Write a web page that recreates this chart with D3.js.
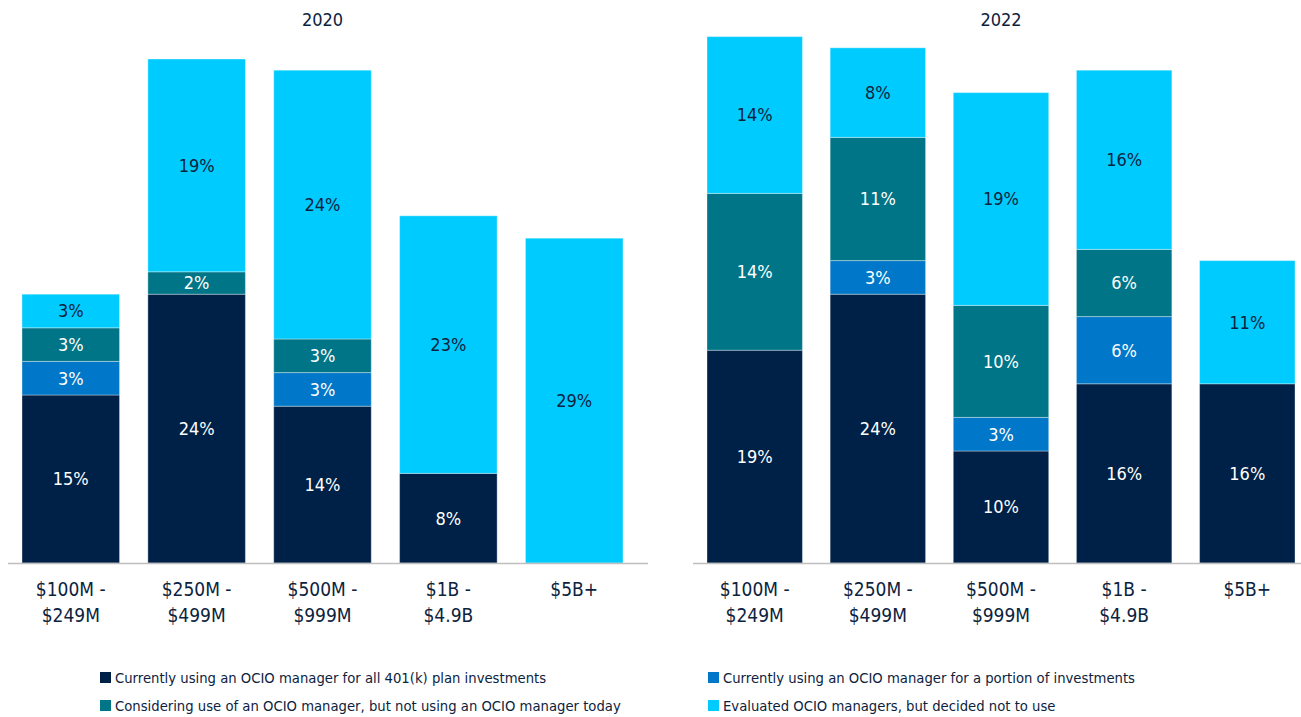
<!DOCTYPE html>
<html lang="en">
<head>
<meta charset="UTF-8">
<title>OCIO usage by plan size</title>
<style>
  body { margin: 0; padding: 0; background: #fff; }
  svg { display: block; font-family: "Liberation Sans Narrow", "DejaVu Sans Condensed", "Roboto", sans-serif; }
</style>
</head>
<body>
<script src="https://d3js.org/d3.v7.min.js"></script>
<script>
const width = 1301
const height = 717

// data
const categories = ['$100M - $249M', '$250M - $499M', '$500M - $999M', '$1B - $4.9B', '$5B+']
const tickLines = [['$100M -', '$249M'], ['$250M -', '$499M'], ['$500M -', '$999M'], ['$1B -', '$4.9B'], ['$5B+']]
const seriesNames = [
  'Currently using an OCIO manager for all 401(k) plan investments',
  'Currently using an OCIO manager for a portion of investments',
  'Considering use of an OCIO manager, but not using an OCIO manager today',
  'Evaluated OCIO managers, but decided not to use'
]
const allIn2020 = [15, 24, 14, 8, 0]
const portion2020 = [3, 0, 3, 0, 0]
const considering2020 = [3, 2, 3, 0, 0]
const evaluated2020 = [3, 19, 24, 23, 29]
const allIn2022 = [19, 24, 10, 16, 16]
const portion2022 = [0, 3, 3, 6, 0]
const considering2022 = [14, 11, 10, 6, 0]
const evaluated2022 = [14, 8, 19, 16, 11]

const colors = ['#002147', '#0077c8', '#007587', '#00cbff']
const navy = '#0c2340'

const panels = [
  { title: '2020', series: [allIn2020, portion2020, considering2020, evaluated2020],
    x0: 8, x1: 648, barsL: 22, barsR: 623 },
  { title: '2022', series: [allIn2022, portion2022, considering2022, evaluated2022],
    x0: 693, x1: 1301, barsL: 707, barsR: 1295 }
]

const baseY = 563
const y = d3.scaleLinear().domain([0, 50]).range([baseY, baseY - 50 * 11.2])

const svg = d3.select('body').append('svg')
  .attr('width', width)
  .attr('height', height)

panels.forEach(p => {
  const rows = categories.map((c, i) => {
    const r = { cat: c }
    p.series.forEach((s, k) => { r['s' + k] = s[i] })
    return r
  })
  const stack = d3.stack().keys(['s0', 's1', 's2', 's3'])(rows)

  const x = d3.scaleBand()
    .domain(categories)
    .range([p.barsL, p.barsR])
    .paddingInner(0.225)
    .paddingOuter(0)

  const g = svg.append('g')

  g.append('text')
    .attr('x', (p.barsL + p.barsR) / 2)
    .attr('y', 26)
    .attr('text-anchor', 'middle')
    .attr('fill', navy)
    .style('font-size', '18px')
    .text(p.title)

  stack.forEach((layer, k) => {
    const seg = g.append('g').selectAll('g')
      .data(layer.filter(d => d[1] - d[0] > 0))
      .join('g')

    seg.append('rect')
      .attr('x', d => x(d.data.cat))
      .attr('width', x.bandwidth())
      .attr('y', d => y(d[1]))
      .attr('height', d => y(d[0]) - y(d[1]))
      .attr('fill', colors[k])
      .attr('stroke', 'rgba(255,255,255,0.35)')
      .attr('stroke-width', 1)

    seg.append('text')
      .attr('x', d => x(d.data.cat) + x.bandwidth() / 2)
      .attr('y', d => (y(d[0]) + y(d[1])) / 2)
      .attr('dy', '0.36em')
      .attr('text-anchor', 'middle')
      .attr('fill', k === 3 ? navy : '#fff')
      .style('font-size', '18px')
      .text(d => (d[1] - d[0]) + '%')
  })

  // axis baseline
  g.append('line')
    .attr('x1', p.x0).attr('x2', p.x1)
    .attr('y1', baseY + 0.5).attr('y2', baseY + 0.5)
    .attr('stroke', '#bfbfbf')
    .attr('stroke-width', 1.5)

  // category labels
  const ticks = g.append('g').selectAll('text')
    .data(categories)
    .join('text')
    .attr('x', d => x(d) + x.bandwidth() / 2)
    .attr('y', 596)
    .attr('text-anchor', 'middle')
    .attr('fill', navy)
    .style('font-size', '19px')

  ticks.selectAll('tspan')
    .data((d, i) => tickLines[i])
    .join('tspan')
    .attr('x', function () { return this.parentNode.getAttribute('x') })
    .attr('dy', (d, i) => i === 0 ? 0 : 26)
    .text(d => d)
})

// legend
const legendPos = [
  { x: 100, y: 678, k: 0 },
  { x: 708, y: 678, k: 1 },
  { x: 100, y: 706, k: 2 },
  { x: 708, y: 706, k: 3 }
]
const legend = svg.append('g').selectAll('g')
  .data(legendPos)
  .join('g')
  .attr('transform', d => `translate(${d.x},${d.y})`)

legend.append('rect')
  .attr('x', 0).attr('y', -6)
  .attr('width', 11).attr('height', 11)
  .attr('fill', d => colors[d.k])

legend.append('text')
  .attr('x', 15)
  .attr('dy', '0.35em')
  .attr('fill', navy)
  .style('font-size', '14.7px')
  .text(d => seriesNames[d.k])
</script>
</body>
</html>
